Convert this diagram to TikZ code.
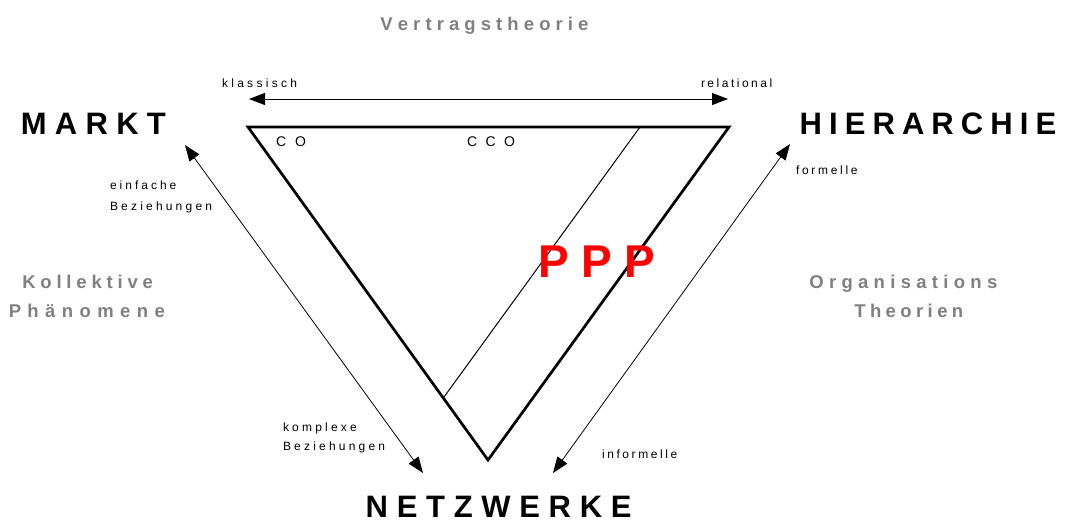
\documentclass[tikz,border=0pt]{standalone}
\usepackage{fontspec}
\setmainfont{Liberation Sans}
\usetikzlibrary{arrows.meta}
\definecolor{lgray}{RGB}{128,128,128}
\ExplSyntaxOn
\NewDocumentCommand\spacedtext{mm}{\tl_map_inline:nn{#2}{##1\hspace{#1}}\hspace{-#1}}
\ExplSyntaxOff
\tikzset{
  txt/.style={inner sep=0pt, outer sep=0pt},
  big/.style={txt, font=\fontsize{31}{33}\bfseries\selectfont},
  grey/.style={txt, text=lgray, font=\fontsize{18.5}{20}\bfseries\selectfont},
  small/.style={txt, font=\fontsize{12}{14}\selectfont},
  mid/.style={txt, font=\fontsize{14}{16}\selectfont},
  ppp/.style={txt, text=red, font=\fontsize{46}{48}\bfseries\selectfont},
  tri/.style={line width=2.7pt, line join=miter},
  thin/.style={line width=1pt},
  biarrow/.style={line width=0.8pt, {Triangle[length=16pt,width=12pt]}-{Triangle[length=16pt,width=12pt]}}
}
\begin{document}
\begin{tikzpicture}[x=1pt,y=-1pt]
\useasboundingbox (0,0) rectangle (1066,523);
% headings
\node[grey, anchor=base] (vt) at (487,30.5) {\spacedtext{5.1pt}{Vertragstheorie}};
\node[big, anchor=base] (markt) at (97.5,134) {\spacedtext{8.3pt}{MARKT}};
\node[big, anchor=base] (hier) at (931.5,134) {\spacedtext{7.1pt}{HIERARCHIE}};
\node[big, anchor=base] (netz) at (503,517) {\spacedtext{8.7pt}{NETZWERKE}};
\node[grey, anchor=base] (koll) at (90,288.5) {\spacedtext{4.8pt}{Kollektive}};
\node[grey, anchor=base] (phae) at (90,317.5) {\spacedtext{6.4pt}{Phänomene}};
\node[grey, anchor=base] (orga) at (906,288.5) {\spacedtext{5.3pt}{Organisations}};
\node[grey, anchor=base] (theo) at (911,317.5) {\spacedtext{4.4pt}{Theorien}};
% small labels
\node[small, anchor=base west] (klass) at (222,87) {\spacedtext{3.3pt}{klassisch}};
\node[small, anchor=base west] (relat) at (701,87) {\spacedtext{2.5pt}{relational}};
\node[small, anchor=base west] (einf1) at (110,189) {\spacedtext{3pt}{einfache}};
\node[small, anchor=base west] (einf2) at (110,210) {\spacedtext{3.2pt}{Beziehungen}};
\node[small, anchor=base west] (komp1) at (283,431) {\spacedtext{3.2pt}{komplexe}};
\node[small, anchor=base west] (komp2) at (283,450) {\spacedtext{3.2pt}{Beziehungen}};
\node[small, anchor=base west] (form) at (796,174) {\spacedtext{2.7pt}{formelle}};
\node[small, anchor=base west] (inform) at (602,458) {\spacedtext{2.6pt}{informelle}};
\node[mid, anchor=base west] (co) at (276,146) {\spacedtext{9pt}{CO}};
\node[mid, anchor=base west] (cco) at (467,146) {\spacedtext{8.5pt}{CCO}};
% triangle
\coordinate (tl) at (248,127);
\coordinate (tr) at (729,127);
\coordinate (bt) at (488,460);
\draw[tri] (tl) -- (tr) -- (bt) -- cycle;
\coordinate (i1) at (640,127);
\coordinate (i2) at (443.3,398);
\draw[thin] (i1) -- (i2);
% arrows
\coordinate (ta1) at (249,99);
\coordinate (ta2) at (728,99);
\draw[biarrow] (ta1) -- (ta2);
\coordinate (la1) at (185,145);
\coordinate (la2) at (423,473);
\draw[biarrow] (la1) -- (la2);
\coordinate (ra1) at (790,144);
\coordinate (ra2) at (553,473);
\draw[biarrow] (ra1) -- (ra2);
% PPP
\node[ppp, anchor=base west] (ppp) at (538,277) {\spacedtext{12.8pt}{PPP}};
\end{tikzpicture}
\end{document}
